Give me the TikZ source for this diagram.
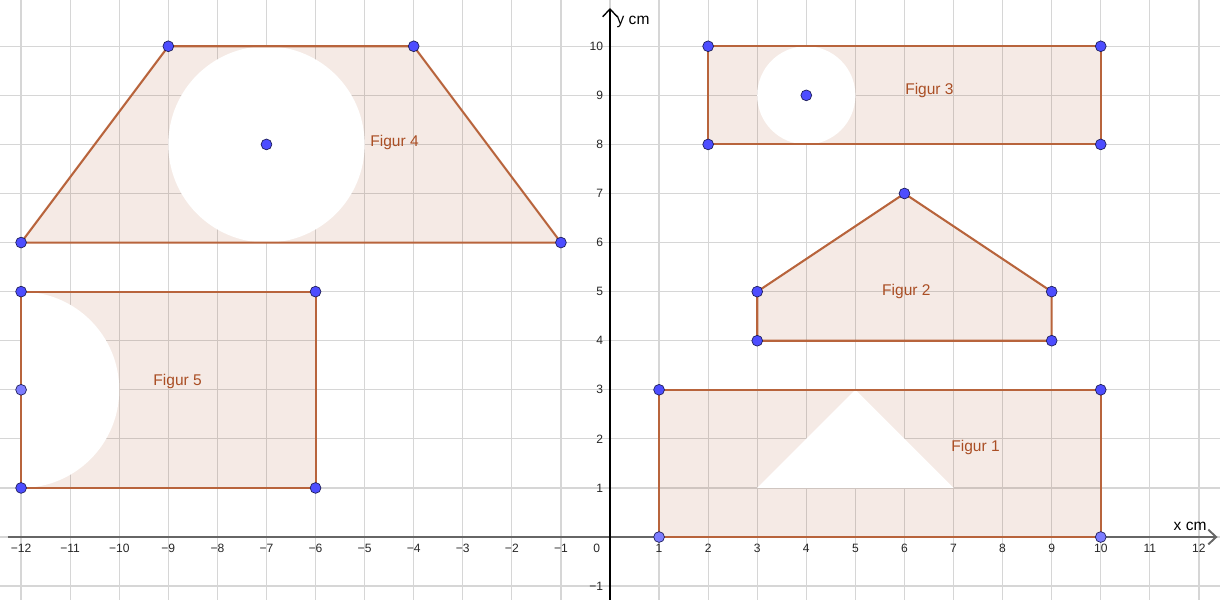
\documentclass[tikz,border=0pt]{standalone}
\usepackage{fontspec}
\setmainfont{Liberation Sans}
\usetikzlibrary{arrows.meta}
\definecolor{gridc}{RGB}{214,214,214}
\definecolor{edgec}{RGB}{184,100,60}
\definecolor{fillc}{RGB}{153,51,0}
\definecolor{labc}{RGB}{170,78,36}
\definecolor{ptc}{RGB}{77,77,255}
\definecolor{ptl}{RGB}{125,125,255}
\definecolor{ptd}{RGB}{30,30,90}
\begin{document}
\begin{tikzpicture}[x=1cm,y=1cm,
  gridline/.style={gridc, line width=0.7pt},
  shapefill/.style={fill=fillc, fill opacity=0.1},
  hole/.style={fill=white},
  edgeline/.style={edgec, line width=1.2pt, line join=round},
  pt/.style={circle, fill=ptc, draw=ptd, line width=0.4pt, inner sep=0pt, minimum size=0.22cm},
  ptlight/.style={pt, fill=ptl},
  ticklab/.style={font=\fontsize{7}{8}\selectfont, text=black!85, inner sep=1pt},
  figlabel/.style={font=\fontsize{9}{10}\selectfont, text=labc, anchor=west, inner sep=0pt},
  axislabel/.style={font=\fontsize{9}{10}\selectfont, inner sep=0pt}]
\useasboundingbox (-12.43,-1.283) rectangle (12.43,10.943);
% grid
\foreach \x in {-12,...,12} \draw[gridline] (\x,-1.283) -- (\x,10.943);
\foreach \y in {-1,...,10} \draw[gridline] (-12.43,\y) -- (12.43,\y);
% axes
\coordinate (xs) at (-12.27,0); \coordinate (xe) at (12.38,0);
\coordinate (ys) at (0,-1.283); \coordinate (ye) at (0,10.78);
\draw[black!60, line width=1.1pt, -{Straight Barb[length=1.6mm,width=3mm]}] (xs) -- (xe);
\draw[black, line width=0.8pt, -{Straight Barb[length=1.6mm,width=3mm]}] (ys) -- (ye);
\node[axislabel] (xl) at (11.82,0.22) {x cm};
\node[axislabel] (yl) at (0.47,10.5) {y cm};
% tick labels
\foreach \x in {1,...,12} {
  \node[ticklab, anchor=north] (tn\x) at (-\x,-0.1) {−\x};
  \node[ticklab, anchor=north] (tp\x) at (\x,-0.1) {\x};
}
\node[ticklab] (t0) at (-0.27,-0.23) {0};
\foreach \y in {1,...,10} \node[ticklab, anchor=east] (ty\y) at (-0.1,\y) {\y};
\node[ticklab, anchor=east] (tym) at (-0.1,-1) {−1};
% fills
\fill[shapefill] (1,0) rectangle (10,3);
\fill[shapefill] (3,4) -- (9,4) -- (9,5) -- (6,7) -- (3,5) -- cycle;
\fill[shapefill] (2,8) rectangle (10,10);
\fill[shapefill] (-12,6) -- (-1,6) -- (-4,10) -- (-9,10) -- cycle;
\fill[shapefill] (-12,1) rectangle (-6,5);
% holes
\fill[hole] (3,1) -- (5,3) -- (7,1) -- cycle;
\fill[hole] (4,9) circle (1);
\fill[hole] (-7,8) circle (2);
\fill[hole] (-12,1) arc (-90:90:2) -- cycle;
% edges
\draw[edgeline] (1,0) rectangle (10,3);
\draw[edgeline] (3,4) -- (9,4) -- (9,5) -- (6,7) -- (3,5) -- cycle;
\draw[edgeline] (2,8) rectangle (10,10);
\draw[edgeline] (-12,6) -- (-1,6) -- (-4,10) -- (-9,10) -- cycle;
\draw[edgeline] (-12,1) rectangle (-6,5);
% points
\node[ptlight] (p1a) at (1,0) {};
\node[ptlight] (p1b) at (10,0) {};
\node[pt] (p1c) at (10,3) {};
\node[pt] (p1d) at (1,3) {};
\node[pt] (p2a) at (3,4) {};
\node[pt] (p2b) at (9,4) {};
\node[pt] (p2c) at (9,5) {};
\node[pt] (p2d) at (6,7) {};
\node[pt] (p2e) at (3,5) {};
\node[pt] (p3a) at (2,8) {};
\node[pt] (p3b) at (10,8) {};
\node[pt] (p3c) at (10,10) {};
\node[pt] (p3d) at (2,10) {};
\node[pt] (p3m) at (4,9) {};
\node[pt] (p4a) at (-12,6) {};
\node[pt] (p4b) at (-1,6) {};
\node[pt] (p4c) at (-4,10) {};
\node[pt] (p4d) at (-9,10) {};
\node[pt] (p4m) at (-7,8) {};
\node[pt] (p5a) at (-12,1) {};
\node[pt] (p5b) at (-6,1) {};
\node[pt] (p5c) at (-6,5) {};
\node[pt] (p5d) at (-12,5) {};
\node[ptlight] (p5m) at (-12,3) {};
% labels
\node[figlabel] (f1) at (6.95,1.83) {Figur 1};
\node[figlabel] (f2) at (5.54,5.01) {Figur 2};
\node[figlabel] (f3) at (6.01,9.1) {Figur 3};
\node[figlabel] (f4) at (-4.89,8.04) {Figur 4};
\node[figlabel] (f5) at (-9.31,3.16) {Figur 5};
\end{tikzpicture}
\end{document}
